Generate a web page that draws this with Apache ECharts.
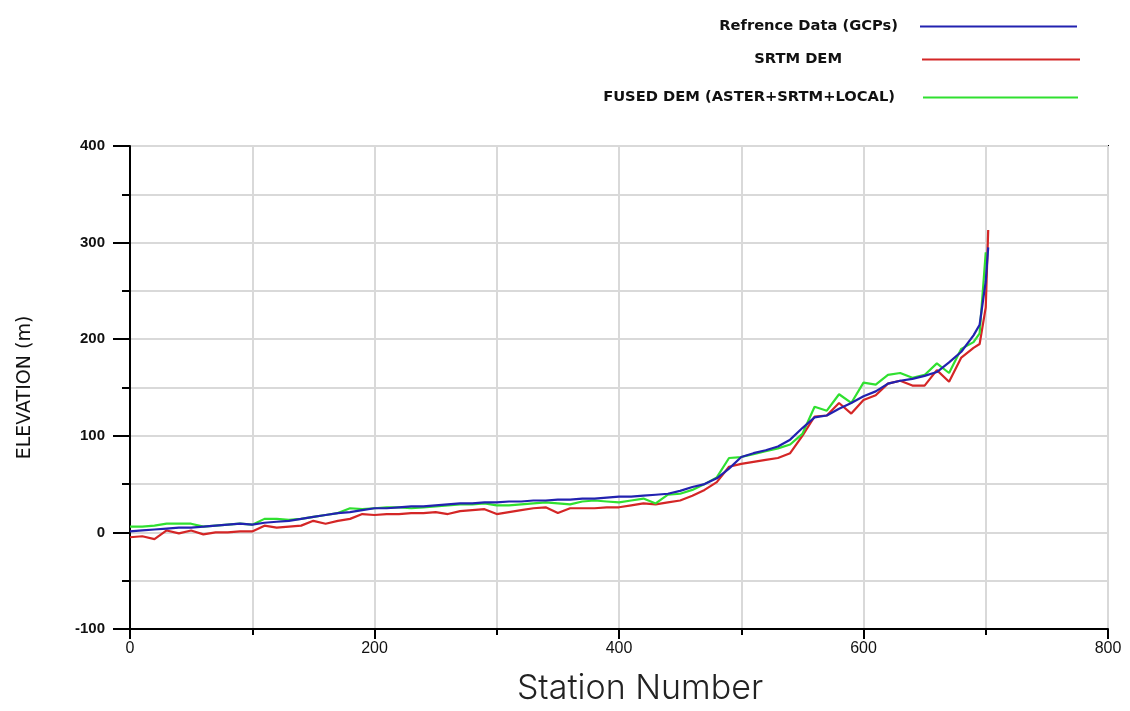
<!DOCTYPE html>
<html>
<head>
<meta charset="utf-8">
<script src="https://cdn.jsdelivr.net/npm/echarts@6/dist/echarts.min.js"></script>
<style>
html,body{margin:0;padding:0;background:#fff;}
#chart{width:1130px;height:711px;}
</style>
</head>
<body>
<div id="chart"></div>
<script>
var stations = [0,10,20,30,40,50,60,70,80,90,100,110,120,130,140,150,160,170,180,190,200,210,220,230,240,250,260,270,280,290,300,310,320,330,340,350,360,370,380,390,400,410,420,430,440,450,460,470,480,490,500,510,520,530,540,550,560,570,580,590,600,610,620,630,640,650,660,670,680,690,695,700,702];
var referenceGCP = [1,2,3,4,5,5,6,7,8,9,8,10,11,12,14,16,18,20,21,23,25,25,26,27,27,28,29,30,30,31,31,32,32,33,33,34,34,35,35,36,37,37,38,39,40,43,47,50,56,66,78,82,85,89,96,108,119,121,128,134,141,146,154,157,159,162,166,176,187,204,215,260,295];
var srtmDEM = [-5,-4,-7,2,-1,2,-2,0,0,1,1,7,5,6,7,12,9,12,14,19,18,19,19,20,20,21,19,22,23,24,19,21,23,25,26,20,25,25,25,26,26,28,30,29,31,33,38,44,52,68,71,73,75,77,82,100,120,121,134,123,137,142,154,157,152,152,168,156,181,191,195,233,313];
var fusedDEM = [6,6,7,9,9,9,6,7,8,9,8,14,14,13,14,16,18,20,25,24,25,26,26,25,26,27,28,29,29,30,28,28,29,30,31,30,29,32,33,32,31,33,35,30,39,40,44,50,57,77,78,81,84,87,91,102,130,126,143,134,155,153,163,165,160,163,175,165,190,197,206,290,null];
var seriesNames = ['Refrence Data (GCPs)', 'SRTM DEM', 'FUSED DEM (ASTER+SRTM+LOCAL)'];
var xTicks = {min: 0, max: 800, interval: 200};
var yTicks = {min: -100, max: 400, interval: 100};

function pairs(vals){
  var out = [];
  for (var i = 0; i < stations.length; i++) {
    if (vals[i] !== null) out.push([stations[i], vals[i]]);
  }
  return out;
}

var gridColor = '#d9d9d9';
var chart = echarts.init(document.getElementById('chart'));
function legendFor(name, top, right, width, padRight){
  return {
    data: [name], top: top, right: right, orient: 'vertical', align: 'right',
    padding: 0, icon: 'rect', itemWidth: width, itemHeight: 2,
    selectedMode: false,
    textStyle: {fontFamily: 'DejaVu Sans', fontWeight: 'bold', fontSize: 14.7, color: '#111', padding: [0, padRight, 0, 0]}
  };
}
chart.setOption({
  backgroundColor: '#fff',
  animation: false,
  legend: [
    legendFor(seriesNames[0], 19, 53, 157, 17),
    legendFor(seriesNames[1], 52, 50, 158, 75),
    legendFor(seriesNames[2], 90, 52, 155, 23)
  ],
  grid: {left: 130, right: 22, top: 146, bottom: 81, show: true, borderColor: '#000', borderWidth: 2, containLabel: false},
  xAxis: {
    type: 'value', min: xTicks.min, max: xTicks.max, interval: xTicks.interval,
    name: 'Station Number', nameLocation: 'middle', nameGap: 43,
    nameTextStyle: {fontFamily: 'Inter, DejaVu Sans', fontWeight: 300, fontSize: 34, color: '#222', padding: [0, 0, 0, 42]},
    axisLine: {show: true, onZero: false, lineStyle: {color: '#000', width: 2}},
    axisTick: {show: true, inside: false, length: 10, lineStyle: {color: '#000', width: 2}},
    minorTick: {show: true, splitNumber: 2, length: 6, lineStyle: {color: '#000', width: 2}},
    axisLabel: {fontFamily: 'Liberation Sans Narrow, Liberation Sans', fontSize: 16, color: '#111', margin: 12},
    splitLine: {show: true, lineStyle: {color: gridColor, width: 2}},
    minorSplitLine: {show: true, lineStyle: {color: gridColor, width: 2}}
  },
  yAxis: {
    type: 'value', min: yTicks.min, max: yTicks.max, interval: yTicks.interval,
    name: 'ELEVATION (m)', nameLocation: 'middle', nameGap: 95, nameRotate: 90,
    nameTextStyle: {fontFamily: 'DejaVu Sans', fontSize: 19, color: '#111'},
    axisLine: {show: true, onZero: false, lineStyle: {color: '#000', width: 2}},
    axisTick: {show: true, inside: false, length: 17, lineStyle: {color: '#000', width: 2}},
    minorTick: {show: true, splitNumber: 2, length: 8, lineStyle: {color: '#000', width: 2}},
    axisLabel: {fontFamily: 'Liberation Sans', fontWeight: 'bold', fontSize: 15, color: '#111', margin: 25},
    splitLine: {show: true, lineStyle: {color: gridColor, width: 2}},
    minorSplitLine: {show: true, lineStyle: {color: gridColor, width: 2}}
  },
  series: [
    {name: seriesNames[0], type: 'line', data: pairs(referenceGCP), showSymbol: false, color: '#2222b0', lineStyle: {width: 2.2, color: '#2222b0'}, z: 4},
    {name: seriesNames[1], type: 'line', data: pairs(srtmDEM), showSymbol: false, color: '#d42626', lineStyle: {width: 2.2, color: '#d42626'}, z: 3},
    {name: seriesNames[2], type: 'line', data: pairs(fusedDEM), showSymbol: false, color: '#30e030', lineStyle: {width: 2.2, color: '#30e030'}, z: 3}
  ]
});
</script>
</body>
</html>
